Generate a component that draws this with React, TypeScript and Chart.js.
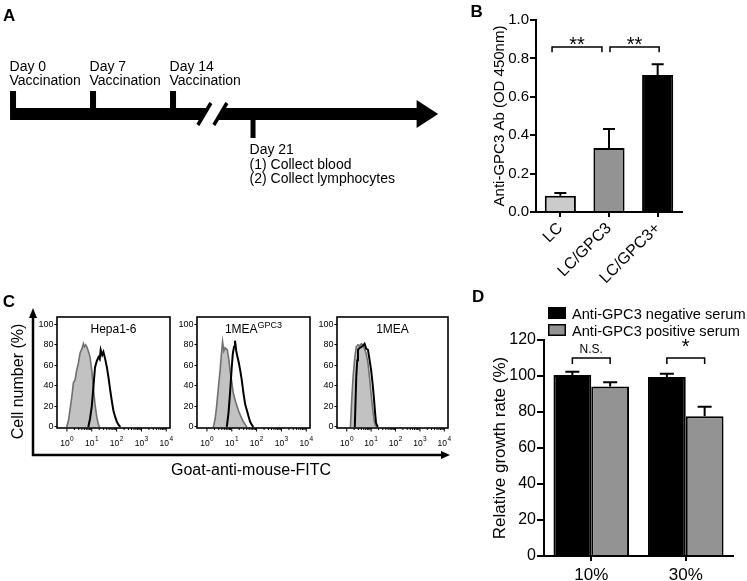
import React, { useEffect, useRef } from 'react';
import { Chart, registerables } from 'chart.js';

Chart.register(...registerables);

const FONT = "'Liberation Sans', Arial, Helvetica, sans-serif";
Chart.defaults.font.family = FONT;
Chart.defaults.color = '#000';

// ---------------- Panel A : timeline ----------------
const TIMELINE_DAYS = [0, 7, 14, 21];
const TIMELINE_TEXT = [
  ['Day 0', 'Vaccination'],
  ['Day 7', 'Vaccination'],
  ['Day 14', 'Vaccination'],
  ['Day 21', '(1) Collect blood', '(2) Collect lymphocytes'],
];
const TIMELINE_BELOW = [false, false, false, true];
const TIMELINE_START_DAY = -0.26;
const TIMELINE_BREAK_DAY = 17.4;
const TIMELINE_ARROW_BASE_DAY = 35.4;
const TIMELINE_END_DAY = 37.2;

// ---------------- Panel B ----------------
const B_CATEGORIES = ['LC', 'LC/GPC3', 'LC/GPC3+'];
const B_MEANS = [0.085, 0.333, 0.713];
const B_SEM = [0.014, 0.099, 0.057];
const B_COLORS = ['#cbcbcb', '#939393', '#000000'];
const B_TICKS = [0, 0.2, 0.4, 0.6, 0.8, 1.0];
const B_Y_TITLE = 'Anti-GPC3 Ab (OD 450nm)';
const B_SIG_FROM = [-0.17, 1.02];
const B_SIG_TO = [0.855, 2.03];
const B_SIG_LABELS = ['**', '**'];
const B_SIG_Y = 0.86;
const B_SIG_DROP = 0.028;
const B_SIG_TEXT_Y = 0.838;

// ---------------- Panel C : histograms ----------------
const C_DECADES = [0, 1, 2, 3, 4];
const C_Y_TICKS = [0, 20, 40, 60, 80, 100];
const C_TITLES = ['Hepa1-6', '1MEA', '1MEA'];
const C_TITLE_SUPS = ['', 'GPC3', ''];
const C_Y_TITLE = 'Cell number (%)';
const C_X_TITLE = 'Goat-anti-mouse-FITC';

const HEPA_CTRL_X = [-0.01, 0.06, 0.12, 0.2, 0.26, 0.33, 0.39, 0.46, 0.53, 0.6, 0.66, 0.7, 0.75, 0.8, 0.86, 0.93, 1.0, 1.06, 1.13, 1.2, 1.26, 1.31];
const HEPA_CTRL_Y = [0, 6, 16, 30, 43, 46, 55, 62, 72, 76, 81, 78, 80, 78, 74, 68, 55, 39, 22, 10, 3, 0];
const HEPA_GPC3_X = [0.86, 0.93, 1.0, 1.07, 1.13, 1.2, 1.27, 1.32, 1.36, 1.42, 1.47, 1.54, 1.61, 1.68, 1.74, 1.81, 1.87, 1.94, 2.01, 2.08, 2.15];
const HEPA_GPC3_Y = [0, 8, 20, 40, 58, 64, 68, 66, 75, 70, 73, 66, 58, 47, 36, 25, 16, 10, 5, 2, 0];

const MEAG_CTRL_X = [0.26, 0.33, 0.39, 0.46, 0.53, 0.58, 0.63, 0.68, 0.73, 0.78, 0.82, 0.88, 0.93, 1.0, 1.06, 1.16, 1.27, 1.37, 1.47, 1.55, 1.61];
const MEAG_CTRL_Y = [0, 8, 20, 38, 55, 70, 83, 74, 77, 76, 75, 66, 55, 44, 33, 24, 16, 10, 5, 2, 0];
const MEAG_GPC3_X = [0.8, 0.87, 0.93, 0.99, 1.04, 1.09, 1.13, 1.18, 1.23, 1.28, 1.34, 1.4, 1.47, 1.54, 1.61, 1.68, 1.74, 1.81, 1.87];
const MEAG_GPC3_Y = [0, 14, 33, 55, 71, 78, 84, 74, 68, 63, 55, 46, 33, 22, 16, 10, 5, 2, 0];

const MEA_CTRL_X = [0.15, 0.2, 0.26, 0.33, 0.39, 0.46, 0.53, 0.6, 0.66, 0.73, 0.8, 0.87, 0.93, 1.0, 1.07, 1.12, 1.16, 1.24];
const MEA_CTRL_Y = [0, 25, 49, 68, 78, 80, 79, 81, 80, 76, 71, 62, 49, 32, 16, 7, 2, 0];
const MEA_GPC3_X = [0.33, 0.36, 0.39, 0.43, 0.46, 0.53, 0.6, 0.66, 0.73, 0.8, 0.87, 0.93, 1.0, 1.06, 1.11, 1.16, 1.2, 1.27];
const MEA_GPC3_Y = [0, 25, 49, 65, 75, 77, 78, 79, 81, 76, 75, 66, 55, 42, 29, 14, 4, 0];

// ---------------- Panel D ----------------
const D_CATEGORIES = ['10%', '30%'];
const D_SERIES = ['Anti-GPC3 negative serum', 'Anti-GPC3 positive serum'];
const D_NEG = [100.6, 99.4];
const D_NEG_SEM = [1.8, 1.9];
const D_POS = [94.1, 77.6];
const D_POS_SEM = [2.4, 5.3];
const D_TICKS = [0, 20, 40, 60, 80, 100, 120];
const D_Y_TITLE = 'Relative growth rate (%)';
const D_SIG_LABELS = ['N.S.', '*'];
const D_SIG_Y = 110;
const D_SIG_DROP = 3.4;
const D_SIG_TEXT_Y = 112.6;

// ---------------- layout (page pixels) ----------------
const POS_A = { left: 0, top: 0, width: 440, height: 200 };
const POS_B = { left: 440, top: 0, width: 307, height: 300 };
const POS_CF = { left: 0, top: 280, width: 480, height: 210 };
const POS_H = [
  { left: 32, top: 305, width: 143, height: 145 },
  { left: 172, top: 305, width: 143, height: 145 },
  { left: 312, top: 305, width: 141, height: 145 },
];
const POS_D = { left: 440, top: 285, width: 307, height: 296 };

const BLACK = '#000';

const tickGrid = (len: number, w: number) => ({
  display: true,
  drawOnChartArea: false,
  drawTicks: true,
  tickLength: len,
  color: BLACK,
  lineWidth: w,
  offset: false,
});
const axisBorder = (w: number) => ({ display: true, color: BLACK, width: w });

const baseOptions = (padding: any) => ({
  responsive: false,
  maintainAspectRatio: false,
  animation: false,
  events: [],
  layout: { padding },
  plugins: { legend: { display: false }, tooltip: { enabled: false }, title: { display: false } },
});

const letterPlugin = (letter: string, x: number, y: number) => ({
  id: 'letter' + letter,
  afterDraw(chart: any) {
    const ctx = chart.ctx;
    ctx.save();
    ctx.fillStyle = BLACK;
    ctx.font = `bold 17px ${FONT}`;
    ctx.textAlign = 'left';
    ctx.textBaseline = 'alphabetic';
    ctx.fillText(letter, x, y);
    ctx.restore();
  },
});

const errorBarPlugin = (errs: number[][], half: number) => ({
  id: 'errorBars',
  afterDatasetsDraw(chart: any) {
    const { ctx } = chart;
    const y = chart.scales.y;
    ctx.save();
    ctx.strokeStyle = BLACK;
    ctx.lineWidth = 2;
    chart.data.datasets.forEach((ds: any, di: number) => {
      const meta = chart.getDatasetMeta(di);
      meta.data.forEach((bar: any, i: number) => {
        const v = ds.data[i];
        const yBar = y.getPixelForValue(v);
        const yTop = y.getPixelForValue(v + errs[di][i]);
        ctx.beginPath();
        ctx.moveTo(bar.x, yBar);
        ctx.lineTo(bar.x, yTop);
        ctx.moveTo(bar.x - half, yTop);
        ctx.lineTo(bar.x + half, yTop);
        ctx.stroke();
      });
    });
    ctx.restore();
  },
});

const drawBracket = (ctx: any, x1: number, x2: number, yb: number, yl: number) => {
  ctx.beginPath();
  ctx.moveTo(x1, yl);
  ctx.lineTo(x1, yb);
  ctx.lineTo(x2, yb);
  ctx.lineTo(x2, yl);
  ctx.stroke();
};

// ---------- Panel A config ----------
const timelinePlugin = {
  id: 'timeline',
  afterDraw(chart: any) {
    const { ctx } = chart;
    const xs = chart.scales.x;
    const ys = chart.scales.y;
    const px = (d: number) => xs.getPixelForValue(d);
    const py = (v: number) => ys.getPixelForValue(v);
    ctx.save();
    ctx.fillStyle = BLACK;
    const barTop = py(108);
    const barBot = py(120);
    const x0 = px(TIMELINE_START_DAY);
    const xb = px(TIMELINE_ARROW_BASE_DAY);
    const xt = px(TIMELINE_END_DAY);
    ctx.fillRect(x0, barTop, xb - x0, barBot - barTop);
    ctx.beginPath();
    ctx.moveTo(xb - 1, py(100));
    ctx.lineTo(xt, py(114));
    ctx.lineTo(xb - 1, py(128));
    ctx.closePath();
    ctx.fill();

    ctx.font = `14px ${FONT}`;
    ctx.textAlign = 'left';
    ctx.textBaseline = 'alphabetic';
    TIMELINE_DAYS.forEach((d, i) => {
      const cx = px(d);
      if (!TIMELINE_BELOW[i]) {
        ctx.fillRect(cx - 3, py(91), 6, barTop - py(91) + 1);
        TIMELINE_TEXT[i].forEach((t, k) => ctx.fillText(t, cx - 3.5, py(70.8 + k * 14.5)));
      } else {
        ctx.fillRect(cx - 2.5, barBot - 1, 5, py(138) - barBot + 1);
        TIMELINE_TEXT[i].forEach((t, k) => ctx.fillText(t, cx - 3.5, py(154.4 + k * 14.3)));
      }
    });

    // axis break
    const bx = px(TIMELINE_BREAK_DAY);
    const yB = py(125);
    const yT = py(103);
    ctx.fillStyle = '#fff';
    ctx.beginPath();
    ctx.moveTo(bx - 14, yB);
    ctx.lineTo(bx - 1, yT);
    ctx.lineTo(bx + 15, yT);
    ctx.lineTo(bx + 2, yB);
    ctx.closePath();
    ctx.fill();
    ctx.strokeStyle = BLACK;
    ctx.lineWidth = 3.5;
    ctx.beginPath();
    ctx.moveTo(bx - 14, yB);
    ctx.lineTo(bx - 1, yT);
    ctx.moveTo(bx + 2, yB);
    ctx.lineTo(bx + 15, yT);
    ctx.stroke();
    ctx.restore();
  },
};

const configA = () => ({
  type: 'scatter',
  data: {
    datasets: [{ data: TIMELINE_DAYS.map((d) => ({ x: d, y: 114 })), pointRadius: 0 }],
  },
  options: {
    ...baseOptions(0),
    scales: {
      x: { type: 'linear', display: false, min: -1.14, max: 37.36 },
      y: { type: 'linear', display: false, min: 0, max: 200, reverse: true },
    },
  },
  plugins: [timelinePlugin, letterPlugin('A', 3, 20.7)],
});

// ---------- Panel B config ----------
const sigBPlugin = {
  id: 'sigB',
  afterDraw(chart: any) {
    const { ctx } = chart;
    const x = chart.scales.x;
    const y = chart.scales.y;
    ctx.save();
    ctx.strokeStyle = BLACK;
    ctx.fillStyle = BLACK;
    ctx.lineWidth = 1.5;
    ctx.font = `20px ${FONT}`;
    ctx.textAlign = 'center';
    ctx.textBaseline = 'alphabetic';
    B_SIG_LABELS.forEach((lab, i) => {
      const x1 = x.getPixelForValue(B_SIG_FROM[i]);
      const x2 = x.getPixelForValue(B_SIG_TO[i]);
      drawBracket(ctx, x1, x2, y.getPixelForValue(B_SIG_Y), y.getPixelForValue(B_SIG_Y - B_SIG_DROP));
      ctx.fillText(lab, (x1 + x2) / 2, y.getPixelForValue(B_SIG_TEXT_Y));
    });
    ctx.restore();
  },
};

const configB = () => ({
  type: 'bar',
  data: {
    labels: B_CATEGORIES,
    datasets: [
      {
        data: B_MEANS,
        backgroundColor: B_COLORS,
        borderColor: BLACK,
        borderWidth: 2,
        barPercentage: 0.64,
        categoryPercentage: 1,
      },
    ],
  },
  options: {
    ...baseOptions({ left: 0, top: 20, right: 65, bottom: 0 }),
    scales: {
      x: {
        type: 'category',
        offset: true,
        grid: tickGrid(5, 2),
        border: axisBorder(2),
        ticks: { font: { size: 16 }, color: BLACK, minRotation: 45, maxRotation: 45, autoSkip: false, padding: 2 },
        afterFit: (s: any) => {
          s.height = 88;
        },
      },
      y: {
        type: 'linear',
        min: 0,
        max: 1,
        afterBuildTicks: (s: any) => {
          s.ticks = B_TICKS.map((v) => ({ value: v }));
        },
        ticks: { font: { size: 15 }, color: BLACK, padding: 1, callback: (v: any) => Number(v).toFixed(1) },
        grid: tickGrid(6, 2),
        border: axisBorder(2),
        title: { display: true, text: B_Y_TITLE, font: { size: 15 }, color: BLACK, padding: { top: 51, bottom: 0 } },
        afterFit: (s: any) => {
          s.width = 96;
        },
      },
    },
  },
  plugins: [errorBarPlugin([B_SEM], 6), sigBPlugin, letterPlugin('B', 30.5, 17.3)],
});

// ---------- Panel C configs ----------
const frameCPlugin = {
  id: 'frameC',
  afterDraw(chart: any) {
    const { ctx, chartArea } = chart;
    const { left, top, bottom, right } = chartArea;
    const tipX = right - 19;
    ctx.save();
    ctx.strokeStyle = BLACK;
    ctx.fillStyle = BLACK;
    ctx.lineWidth = 2.5;
    ctx.beginPath();
    ctx.moveTo(left, top + 6);
    ctx.lineTo(left, bottom);
    ctx.lineTo(tipX - 6, bottom);
    ctx.stroke();
    ctx.beginPath();
    ctx.moveTo(left, top);
    ctx.lineTo(left + 4, top + 10);
    ctx.lineTo(left - 4, top + 10);
    ctx.closePath();
    ctx.fill();
    ctx.beginPath();
    ctx.moveTo(tipX, bottom);
    ctx.lineTo(tipX - 9, bottom - 4);
    ctx.lineTo(tipX - 9, bottom + 4);
    ctx.closePath();
    ctx.fill();
    ctx.restore();
  },
};

const configCFrame = () => ({
  type: 'scatter',
  data: { datasets: [] },
  options: {
    ...baseOptions({ left: 0, top: 28, right: 11, bottom: 0 }),
    scales: {
      x: {
        type: 'linear',
        min: 0,
        max: 1,
        ticks: { display: false },
        grid: { display: false },
        border: { display: false },
        title: { display: true, text: C_X_TITLE, font: { size: 16 }, color: BLACK, padding: { top: 0, bottom: 10 } },
        afterFit: (s: any) => {
          s.height = 35;
        },
      },
      y: {
        type: 'linear',
        min: 0,
        max: 1,
        ticks: { display: false },
        grid: { display: false },
        border: { display: false },
        title: { display: true, text: C_Y_TITLE, font: { size: 16 }, color: BLACK, padding: { top: 9.4, bottom: 0 } },
        afterFit: (s: any) => {
          s.width = 33;
        },
      },
    },
  },
  plugins: [frameCPlugin, letterPlugin('C', 2.7, 26.7)],
});

const histPlugin = (title: string, sup: string) => ({
  id: 'hist',
  afterDraw(chart: any) {
    const { ctx, chartArea } = chart;
    const x = chart.scales.x;
    const { left, top, right, bottom } = chartArea;
    ctx.save();
    ctx.strokeStyle = BLACK;
    ctx.fillStyle = BLACK;
    ctx.lineWidth = 1.6;
    ctx.strokeRect(left, top, right - left, bottom - top);
    // log ticks
    ctx.lineWidth = 1;
    ctx.beginPath();
    C_DECADES.forEach((d) => {
      const xp = x.getPixelForValue(d);
      ctx.moveTo(xp, bottom);
      ctx.lineTo(xp, bottom + 3.5);
      if (d < 4) {
        for (let k = 2; k < 10; k++) {
          const xm = x.getPixelForValue(d + Math.log10(k));
          ctx.moveTo(xm, bottom);
          ctx.lineTo(xm, bottom + 2);
        }
      }
    });
    ctx.stroke();
    // decade labels 10^n
    ctx.textBaseline = 'alphabetic';
    C_DECADES.forEach((d) => {
      const xp = x.getPixelForValue(d);
      ctx.font = `8.5px ${FONT}`;
      const w1 = ctx.measureText('10').width;
      ctx.font = `6.5px ${FONT}`;
      const w2 = ctx.measureText(String(d)).width;
      const start = xp - (w1 + w2 + 0.5) / 2;
      ctx.font = `8.5px ${FONT}`;
      ctx.textAlign = 'left';
      ctx.fillText('10', start, bottom + 18);
      ctx.font = `6.5px ${FONT}`;
      ctx.fillText(String(d), start + w1 + 0.5, bottom + 12.7);
    });
    // title
    ctx.font = `12px ${FONT}`;
    const tw = ctx.measureText(title).width;
    ctx.font = `9px ${FONT}`;
    const sw = sup ? ctx.measureText(sup).width : 0;
    const cx = (left + right) / 2;
    const tx = cx - (tw + sw) / 2;
    ctx.textAlign = 'left';
    ctx.font = `12px ${FONT}`;
    ctx.fillText(title, tx, top + 15.7);
    if (sup) {
      ctx.font = `9px ${FONT}`;
      ctx.fillText(sup, tx + tw, top + 11);
    }
    ctx.restore();
  },
});

const histConfig = (ctrlX: number[], ctrlY: number[], posX: number[], posY: number[], title: string, sup: string) => ({
  type: 'line',
  data: {
    datasets: [
      {
        data: posX.map((v, i) => ({ x: v, y: posY[i] })),
        borderColor: BLACK,
        borderWidth: 2,
        pointRadius: 0,
        fill: false,
        tension: 0,
      },
      {
        data: ctrlX.map((v, i) => ({ x: v, y: ctrlY[i] })),
        borderColor: '#707070',
        backgroundColor: '#c2c2c2',
        borderWidth: 1.6,
        pointRadius: 0,
        fill: 'origin',
        tension: 0,
      },
    ],
  },
  options: {
    ...baseOptions({ left: 0, top: 12, right: 5, bottom: 0 }),
    scales: {
      x: {
        type: 'linear',
        min: -0.4,
        max: 4.15,
        ticks: { display: false },
        grid: { display: false },
        border: { display: false },
        afterFit: (s: any) => {
          s.height = 22;
        },
      },
      y: {
        type: 'linear',
        min: -1,
        max: 107,
        afterBuildTicks: (s: any) => {
          s.ticks = C_Y_TICKS.map((v) => ({ value: v }));
        },
        ticks: { font: { size: 9 }, color: BLACK, padding: 1 },
        grid: tickGrid(2.5, 1),
        border: { display: false },
        afterFit: (s: any) => {
          s.width = 25;
        },
      },
    },
  },
  plugins: [histPlugin(title, sup)],
});

// ---------- Panel D config ----------
const dExtrasPlugin = {
  id: 'dExtras',
  afterDraw(chart: any) {
    const { ctx, chartArea } = chart;
    const y = chart.scales.y;
    ctx.save();
    ctx.strokeStyle = BLACK;
    ctx.fillStyle = BLACK;
    // brackets
    ctx.lineWidth = 1.5;
    const m0 = chart.getDatasetMeta(0);
    const m1 = chart.getDatasetMeta(1);
    D_SIG_LABELS.forEach((lab, i) => {
      const x1 = m0.data[i].x;
      const x2 = m1.data[i].x;
      drawBracket(ctx, x1, x2, y.getPixelForValue(D_SIG_Y), y.getPixelForValue(D_SIG_Y - D_SIG_DROP));
      ctx.font = lab === '*' ? `20px ${FONT}` : `12px ${FONT}`;
      ctx.textAlign = 'center';
      ctx.textBaseline = 'alphabetic';
      ctx.fillText(lab, (x1 + x2) / 2, y.getPixelForValue(D_SIG_TEXT_Y));
    });
    // legend
    chart.data.datasets.forEach((ds: any, i: number) => {
      const by = chartArea.top - 33 + i * 17;
      const bx = chartArea.left + 4;
      ctx.fillStyle = ds.backgroundColor;
      ctx.fillRect(bx, by, 18, 12);
      ctx.lineWidth = 1.5;
      ctx.strokeStyle = BLACK;
      ctx.strokeRect(bx + 0.75, by + 0.75, 16.5, 10.5);
      ctx.fillStyle = BLACK;
      ctx.font = `14.6px ${FONT}`;
      ctx.textAlign = 'left';
      ctx.textBaseline = 'alphabetic';
      ctx.fillText(ds.label, bx + 24, by + 12);
    });
    ctx.restore();
  },
};

const configD = () => ({
  type: 'bar',
  data: {
    labels: D_CATEGORIES,
    datasets: [
      {
        label: D_SERIES[0],
        data: D_NEG,
        backgroundColor: '#000000',
        borderColor: BLACK,
        borderWidth: 2,
        barPercentage: 1,
        categoryPercentage: 0.8,
      },
      {
        label: D_SERIES[1],
        data: D_POS,
        backgroundColor: '#939393',
        borderColor: BLACK,
        borderWidth: 2,
        barPercentage: 1,
        categoryPercentage: 0.8,
      },
    ],
  },
  options: {
    ...baseOptions({ left: 0, top: 55, right: 14, bottom: 0 }),
    scales: {
      x: {
        type: 'category',
        offset: true,
        grid: tickGrid(5, 2),
        border: axisBorder(2),
        ticks: { font: { size: 17 }, color: BLACK, padding: 4, autoSkip: false, maxRotation: 0 },
        afterFit: (s: any) => {
          s.height = 25;
        },
      },
      y: {
        type: 'linear',
        min: 0,
        max: 120,
        afterBuildTicks: (s: any) => {
          s.ticks = D_TICKS.map((v) => ({ value: v }));
        },
        ticks: { font: { size: 16 }, color: BLACK, padding: 1 },
        grid: tickGrid(7, 2),
        border: axisBorder(2),
        title: { display: true, text: D_Y_TITLE, font: { size: 17 }, color: BLACK, padding: { top: 50, bottom: 0 } },
        afterFit: (s: any) => {
          s.width = 104;
        },
      },
    },
  },
  plugins: [errorBarPlugin([D_NEG_SEM, D_POS_SEM], 7), dExtrasPlugin, letterPlugin('D', 32, 17)],
});

function ChartCanvas({ pos, make }: { pos: any; make: () => any }) {
  const ref = useRef<HTMLCanvasElement>(null);
  useEffect(() => {
    const chart = new Chart(ref.current as HTMLCanvasElement, make() as any);
    return () => chart.destroy();
  }, []);
  return (
    <canvas
      ref={ref}
      width={pos.width}
      height={pos.height}
      style={{ position: 'absolute', left: pos.left, top: pos.top, width: pos.width, height: pos.height }}
    />
  );
}

export default function App() {
  return (
    <div
      style={{
        position: 'absolute',
        left: 0,
        top: 0,
        width: 747,
        height: 581,
        overflow: 'hidden',
        background: '#fff',
      }}
    >
      <ChartCanvas pos={POS_A} make={configA} />
      <ChartCanvas pos={POS_B} make={configB} />
      <ChartCanvas pos={POS_CF} make={configCFrame} />
      <ChartCanvas pos={POS_H[0]} make={() => histConfig(HEPA_CTRL_X, HEPA_CTRL_Y, HEPA_GPC3_X, HEPA_GPC3_Y, C_TITLES[0], C_TITLE_SUPS[0])} />
      <ChartCanvas pos={POS_H[1]} make={() => histConfig(MEAG_CTRL_X, MEAG_CTRL_Y, MEAG_GPC3_X, MEAG_GPC3_Y, C_TITLES[1], C_TITLE_SUPS[1])} />
      <ChartCanvas pos={POS_H[2]} make={() => histConfig(MEA_CTRL_X, MEA_CTRL_Y, MEA_GPC3_X, MEA_GPC3_Y, C_TITLES[2], C_TITLE_SUPS[2])} />
      <ChartCanvas pos={POS_D} make={configD} />
    </div>
  );
}
